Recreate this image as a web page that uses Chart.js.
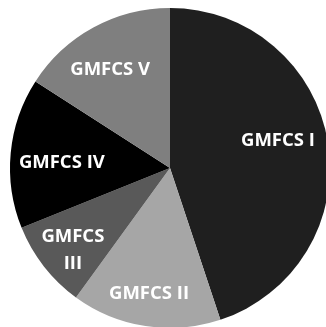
<!DOCTYPE html>
<html>
<head>
<meta charset="utf-8">
<script src="https://cdn.jsdelivr.net/npm/chart.js@4"></script>
<style>
  html, body { margin: 0; padding: 0; background: #ffffff; overflow: hidden; }
  #wrap { position: absolute; left: 0; top: 0; width: 340px; height: 336px; }
</style>
</head>
<body>
<div id="wrap"><canvas id="pie" width="340" height="336"></canvas></div>
<script>
// GMFCS level distribution (share of participants, %)
const categories = ['GMFCS I', 'GMFCS II', 'GMFCS III', 'GMFCS IV', 'GMFCS V'];
const shares = [44.9, 15.1, 8.9, 15.2, 15.9];
const sliceColors = ['#1f1f1f', '#a6a6a6', '#595959', '#000000', '#7f7f7f'];

// Label text lines per slice, and where each sits: fraction of the radius
// along the slice's mid-angle, plus a small pixel nudge.
const labelLines = [['GMFCS I'], ['GMFCS II'], ['GMFCS', 'III'], ['GMFCS IV'], ['GMFCS V']];
const labelRadius = [0.696, 0.795, 0.794, 0.679, 0.718];
const labelNudge = [[-2, -9], [-1.5, 0], [3, 3.6], [0, 5.4], [-4.8, 2.8]];

const sliceLabels = {
  id: 'sliceLabels',
  afterDatasetsDraw(chart) {
    const ctx = chart.ctx;
    const arcs = chart.getDatasetMeta(0).data;
    ctx.save();
    ctx.fillStyle = '#ffffff';
    ctx.font = 'bold 18.5px "Open Sans", sans-serif';
    ctx.textAlign = 'center';
    ctx.textBaseline = 'middle';
    const lineHeight = 27;
    arcs.forEach((arc, i) => {
      const mid = (arc.startAngle + arc.endAngle) / 2;
      const r = arc.outerRadius * labelRadius[i];
      const cx = arc.x + Math.cos(mid) * r + labelNudge[i][0];
      const cy = arc.y + Math.sin(mid) * r + labelNudge[i][1];
      const lines = labelLines[i];
      lines.forEach((t, k) => {
        const y = cy + (k - (lines.length - 1) / 2) * lineHeight;
        ctx.fillText(t, cx, y);
      });
    });
    ctx.restore();
  }
};

new Chart(document.getElementById('pie'), {
  type: 'pie',
  data: {
    labels: categories,
    datasets: [{
      data: shares,
      backgroundColor: sliceColors,
      borderWidth: 0,
      radius: 160
    }]
  },
  options: {
    responsive: false,
    animation: false,
    layout: { padding: 0 },
    plugins: {
      legend: { display: false },
      tooltip: { enabled: false }
    }
  },
  plugins: [sliceLabels]
});
</script>
</body>
</html>
